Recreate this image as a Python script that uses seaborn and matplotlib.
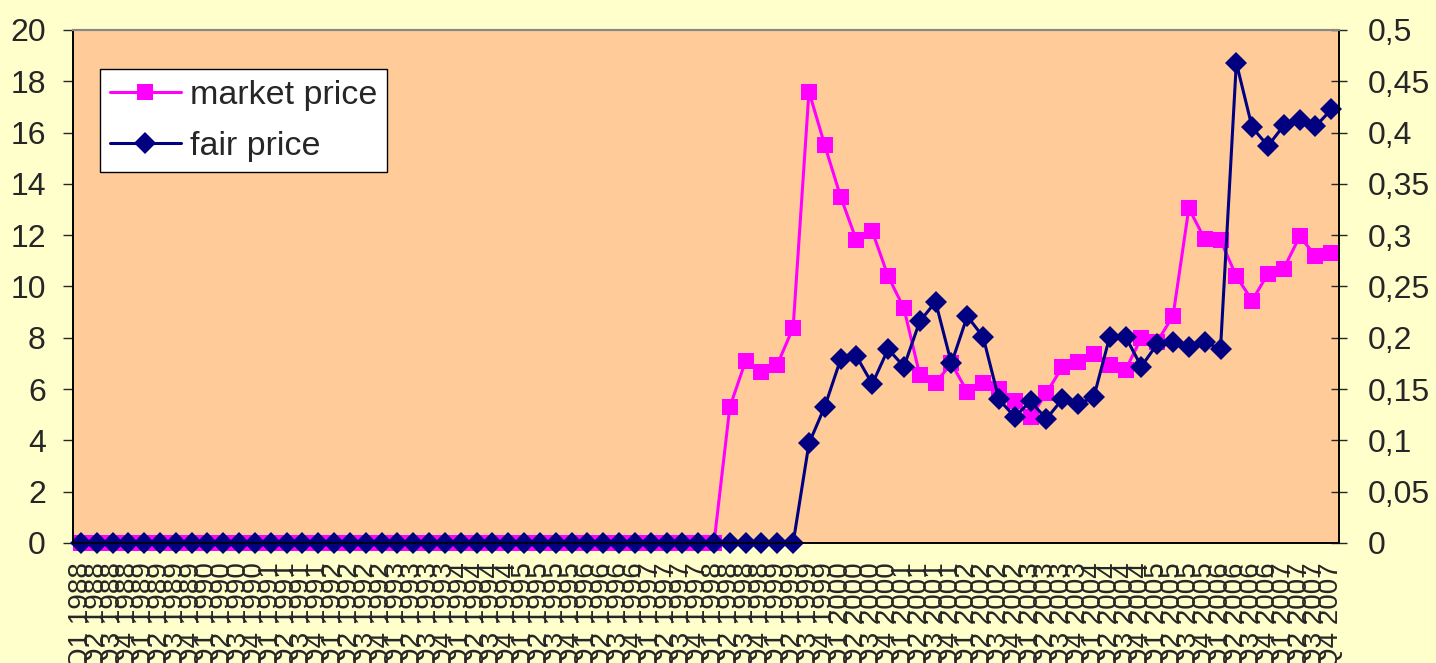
import numpy as np
import pandas as pd
import matplotlib
matplotlib.use("Agg")
import matplotlib.pyplot as plt
from matplotlib.ticker import FixedLocator, FuncFormatter
import seaborn as sns

# quarters Q1 1988 .. Q4 2007
quarters = [f"Q{q} {y}" for y in range(1988, 2008) for q in range(1, 5)]

market_price = [0.0] * 41 + [
    5.3, 7.1, 6.65, 6.95, 8.4, 17.6, 15.5, 13.5, 11.8, 12.15,
    10.4, 9.15, 6.55, 6.25, 7.0, 5.9, 6.25, 6.0, 5.55, 4.9,
    5.85, 6.85, 7.05, 7.35, 6.95, 6.75, 8.0, 7.85, 8.85, 13.05,
    11.85, 11.8, 10.4, 9.45, 10.5, 10.7, 11.95, 11.2, 11.3,
]

fair_price = [0.0] * 46 + [
    0.097, 0.133, 0.179, 0.182, 0.155, 0.189, 0.172, 0.216, 0.235, 0.175,
    0.221, 0.201, 0.140, 0.123, 0.138, 0.121, 0.140, 0.135, 0.1425, 0.201,
    0.201, 0.172, 0.194, 0.196, 0.191, 0.196, 0.189, 0.468, 0.405, 0.387,
    0.407, 0.412, 0.406, 0.4225,
]

df = pd.DataFrame({
    "idx": np.arange(len(quarters)),
    "quarter": quarters,
    "market price": market_price,
    "fair price": fair_price,
})

sns.set_style("white")
plt.rcParams["font.family"] = ["Liberation Sans", "DejaVu Sans"]

fig = plt.figure(figsize=(14.36, 6.63), dpi=100, facecolor="#FFFFCC")
ax = fig.add_axes([0.0508, 0.181, 0.8818, 0.7738])
ax.set_facecolor("#FFCC99")

sns.lineplot(data=df, x="idx", y="market price", ax=ax, color="#FF00FF",
             marker="s", markersize=11.5, markeredgewidth=0, linewidth=2.2,
             clip_on=False, label="market price", legend=False)

ax2 = ax.twinx()
sns.lineplot(data=df, x="idx", y="fair price", ax=ax2, color="#000080",
             marker="D", markersize=11.5, markeredgewidth=0, linewidth=2.2,
             clip_on=False, label="fair price", legend=False)

ax.set_xlim(-0.5, len(quarters) - 0.5)
ax.set_ylim(0, 20)
ax2.set_ylim(0, 0.5)
ax.set_yticks(np.arange(0, 21, 2))
ax2.set_yticks(np.arange(0, 0.51, 0.05))
ax2.yaxis.set_major_formatter(FuncFormatter(lambda v, p: f"{v:.2f}".rstrip("0").rstrip(".").replace(".", ",")))

ax.set_xticks(df["idx"])
ax.set_xticklabels(quarters, rotation=90, fontsize=20, va="top")
ax.xaxis.set_minor_locator(FixedLocator(np.arange(-0.5, len(quarters), 1)))
ax.tick_params(axis="x", which="major", length=0, pad=14)
ax.tick_params(axis="x", which="minor", direction="inout", length=10, width=1, color="black")
ax.tick_params(axis="y", which="major", direction="out", length=7.5, width=1,
               labelsize=23, pad=12, left=True)
ax2.tick_params(axis="y", which="major", direction="inout", length=11, width=1,
                labelsize=23, pad=15, right=True)

for a in (ax, ax2):
    a.set_xlabel("")
    a.set_ylabel("")
    for side in ("left", "right", "bottom"):
        a.spines[side].set_color("black")
        a.spines[side].set_linewidth(1.2)
    a.spines["top"].set_color("#888888")
    a.spines["top"].set_linewidth(1.5)

h1, l1 = ax.get_legend_handles_labels()
h2, l2 = ax2.get_legend_handles_labels()
leg = ax2.legend(h1 + h2, l1 + l2, loc="upper left", bbox_to_anchor=(0.021, 0.923),
                 fontsize=24.5, frameon=True, fancybox=False, framealpha=1,
                 edgecolor="black", borderaxespad=0, handlelength=2.1,
                 handletextpad=0.25, labelspacing=0.6, borderpad=0.3)
leg.get_frame().set_linewidth(1)

fig.savefig("out.png", dpi=100, facecolor=fig.get_facecolor())
